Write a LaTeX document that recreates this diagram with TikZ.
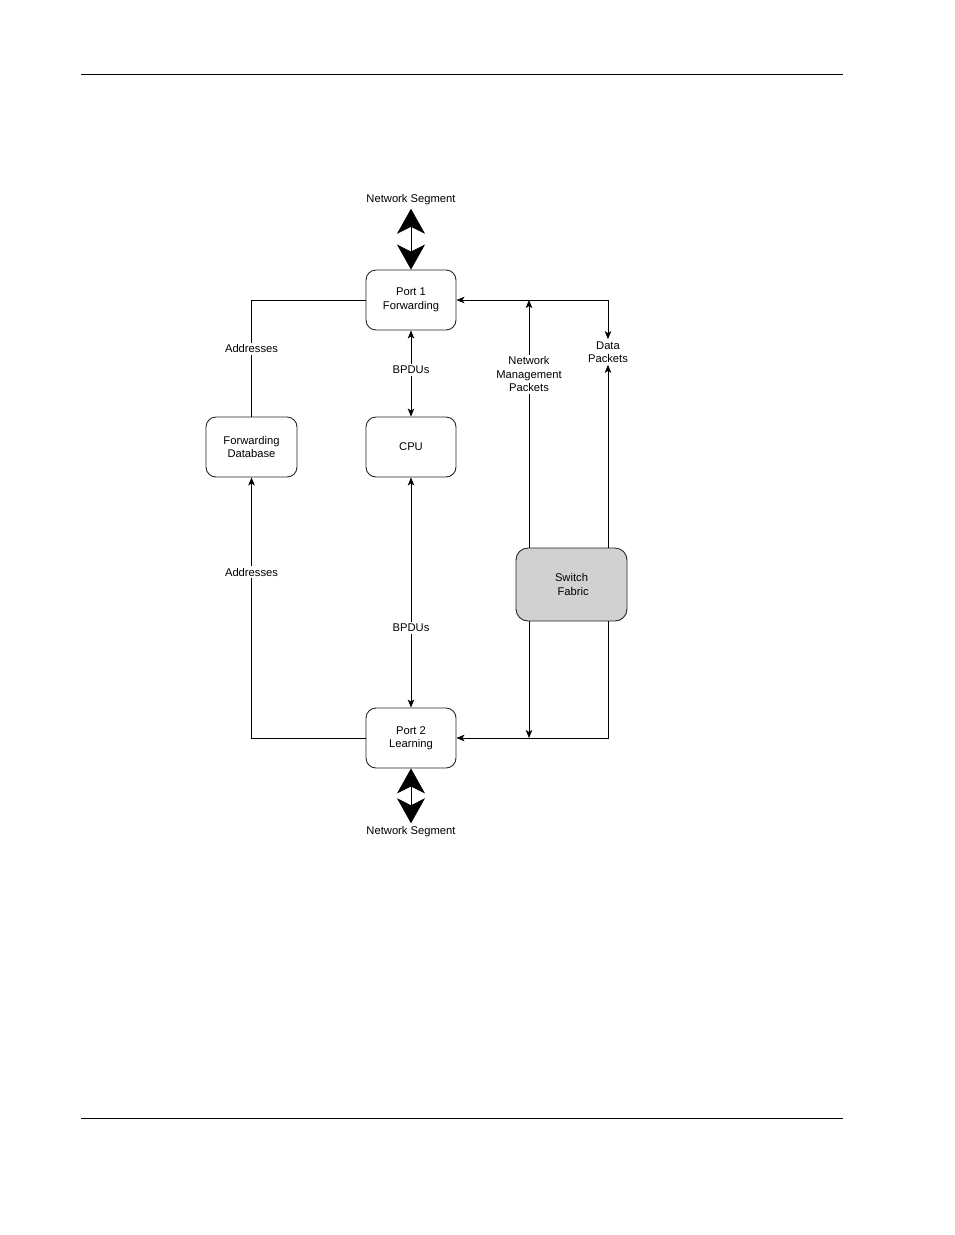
\documentclass[tikz,border=0pt]{standalone}
\usepackage{fontspec}
\setmainfont{Liberation Sans}
\usetikzlibrary{arrows.meta}

\tikzset{
  unit/.style={draw=black!85, line width=0.9pt, rounded corners=10pt, minimum width=90pt, minimum height=60pt, align=center, inner sep=0pt},
  wire/.style={line width=0.8pt},
  tip/.style={-{Stealth[length=8pt,width=6.5pt,inset=2pt]}},
  tips/.style={{Stealth[length=8pt,width=6.5pt,inset=2pt]}-{Stealth[length=8pt,width=6.5pt,inset=2pt]}},
  segarrow/.style={line width=0.8pt, {Stealth[length=25pt,width=28pt,inset=7pt]}-{Stealth[length=25pt,width=28pt,inset=7pt]}},
  lbl/.style={fill=white, inner sep=2pt, align=center}
}

\begin{document}
\begin{tikzpicture}[x=1pt, y=-1pt, font=\fontsize{11.2}{13.5}\selectfont]
        \useasboundingbox (0,0) rectangle (954,1235);
        % page rules
        \draw[line width=0.8pt] (81,74) -- (843,74);
        \draw[line width=0.8pt] (81,1118) -- (843,1118);

        % blocks
        \node[unit] (port1) at (411,300) {Port 1\\Forwarding};
        \node[unit] (cpu) at (411,447) {CPU};
        \node[unit, minimum width=91pt] (fdb) at (251.5,447) {Forwarding\\ Database};
        \node[unit, fill=black!18, minimum width=111pt, minimum height=73pt, rounded corners=12pt] (fabric) at (571.5,584.5) {Switch\\ \ Fabric};
        \node[unit] (port2) at (411,738) {Port 2\\Learning};
        \node (seg1) at (411,200) {Network Segment};
        \node (seg2) at (411,832) {Network Segment};
        \node[lbl] (data) at (608,352) {Data\\Packets};
        \coordinate (mgmt) at (529,300);
        \coordinate (junc) at (608,300);
        \coordinate (mgmtbot) at (529,738);

        % network segments
        \draw[segarrow] (seg1) -- (port1.north);
        \draw[segarrow] (port2.south) -- (seg2);

        % addresses
        \draw[wire] (port1.west) -| (fdb.north) node[lbl, pos=0.71] {Addresses};
        \draw[wire, tip] (port2.west) -| (fdb.south) node[lbl, pos=0.818] {Addresses};

        % bpdus
        \draw[wire, tips] (port1.south) -- (cpu.north) node[lbl, pos=0.46] {BPDUs};
        \draw[wire, tips] (cpu.south) -- (port2.north) node[lbl, pos=0.654] {BPDUs};

        % switch fabric paths
        \draw[wire, tip] (fabric.north -| mgmt) -- (mgmt) node[lbl, pos=0.70] {Network\\Management\\ Packets};
        \draw[wire, tip] (junc) -- (port1.east);
        \draw[wire, tip] (junc) -- (data.north);
        \draw[wire, tip] (fabric.north -| data) -- (data.south);
        \draw[wire, tip] (fabric.south -| mgmt) -- (mgmtbot);
        \draw[wire, tip] (fabric.south -| data) |- (port2.east);
    \end{tikzpicture}
\end{document}
